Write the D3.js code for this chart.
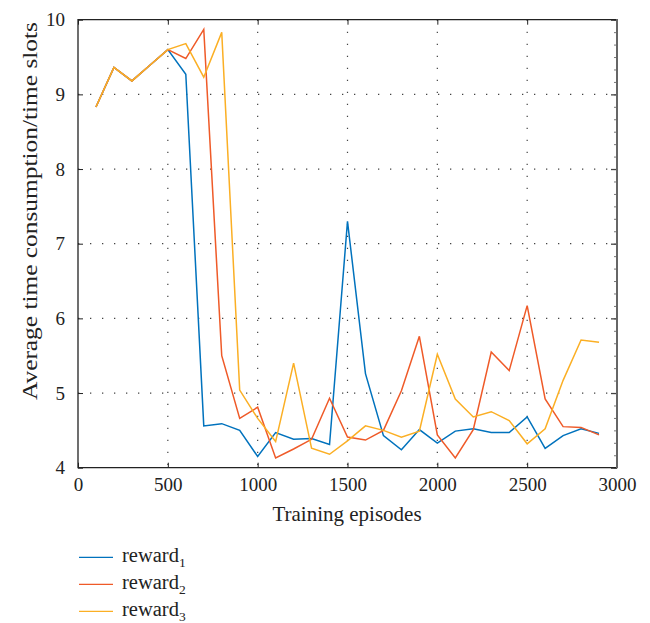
<!DOCTYPE html>
<html>
<head>
<meta charset="utf-8">
<script src="https://cdn.jsdelivr.net/npm/d3@7"></script>
<style>
  body { margin: 0; background: #fff; }
  text { font-family: "Liberation Serif", "DejaVu Serif", serif; fill: #222; }
</style>
</head>
<body>
<svg id="chart" width="650" height="623"></svg>
<script>
// training episodes (x)
var episodes = [100, 200, 300, 400, 500, 600, 700, 800, 900, 1000,
                1100, 1200, 1300, 1400, 1500, 1600, 1700, 1800, 1900, 2000,
                2100, 2200, 2300, 2400, 2500, 2600, 2700, 2800, 2900]

var reward1 = [8.83, 9.36, 9.18, 9.39, 9.60, 9.27, 4.56, 4.59, 4.50, 4.15,
               4.47, 4.38, 4.39, 4.31, 7.30, 5.26, 4.43, 4.24, 4.51, 4.33,
               4.49, 4.52, 4.47, 4.47, 4.68, 4.26, 4.43, 4.52, 4.46]

var reward2 = [8.83, 9.36, 9.18, 9.39, 9.60, 9.48, 9.87, 5.50, 4.66, 4.81,
               4.13, 4.25, 4.38, 4.93, 4.41, 4.37, 4.50, 5.03, 5.76, 4.44,
               4.13, 4.51, 5.55, 5.30, 6.17, 4.92, 4.55, 4.54, 4.44]

var reward3 = [8.83, 9.36, 9.18, 9.39, 9.60, 9.68, 9.23, 9.83, 5.04, 4.66,
               4.35, 5.40, 4.26, 4.18, 4.36, 4.56, 4.50, 4.41, 4.49, 5.52,
               4.92, 4.68, 4.75, 4.63, 4.32, 4.52, 5.17, 5.71, 5.68]

var seriesNames = ["1", "2", "3"]
var xTicks = [0, 500, 1000, 1500, 2000, 2500, 3000]
var yTicks = [4, 5, 6, 7, 8, 9, 10]

var colors = ["#0072BD", "#EF5A28", "#FBAF24"]

function draw() {
    var svg = d3.select("#chart")
    var x0 = 78, x1 = 617, y0 = 19.7, y1 = 467.7

    var x = d3.scaleLinear().domain([0, 3000]).range([x0, x1])
    var y = d3.scaleLinear().domain([4, 10]).range([y1, y0])

    // dotted grid
    var grid = svg.append("g")
    grid.selectAll(".gx")
        .data(xTicks.slice(1, -1))
        .enter().append("line")
        .attr("x1", function(d) { return x(d) })
        .attr("x2", function(d) { return x(d) })
        .attr("y1", y0).attr("y2", y1)
        .attr("stroke", "#444")
        .attr("stroke-width", 1.2)
        .attr("stroke-dasharray", "1.3,10.7")
    grid.selectAll(".gy")
        .data(yTicks.slice(1, -1))
        .enter().append("line")
        .attr("x1", x0).attr("x2", x1)
        .attr("y1", function(d) { return y(d) })
        .attr("y2", function(d) { return y(d) })
        .attr("stroke", "#444")
        .attr("stroke-width", 1.2)
        .attr("stroke-dasharray", "1.3,10.7")

    // lines
    var line = d3.line()
        .x(function(d, i) { return x(episodes[i]) })
        .y(function(d) { return y(d) })

    var allSeries = [reward1, reward2, reward3]
    svg.append("g").selectAll("path")
        .data(allSeries)
        .enter().append("path")
        .attr("d", line)
        .attr("fill", "none")
        .attr("stroke", function(d, i) { return colors[i] })
        .attr("stroke-width", 1.5)

    // axes (ticks inward)
    svg.append("g")
        .attr("transform", "translate(0," + y1 + ")")
        .call(d3.axisBottom(x).tickValues(xTicks).tickFormat(d3.format("d"))
              .tickSizeInner(-5).tickSizeOuter(0).tickPadding(10))
        .call(function(g) {
            g.select(".domain").remove()
            g.selectAll("line").attr("stroke", "#222")
            g.selectAll("text").attr("font-size", 19).attr("fill", "#222")
                .attr("font-family", "Liberation Serif, serif")
        })

    svg.append("g")
        .attr("transform", "translate(0," + y0 + ")")
        .call(d3.axisTop(x).tickValues(xTicks).tickSizeInner(-5).tickSizeOuter(0).tickFormat(""))
        .call(function(g) {
            g.select(".domain").remove()
            g.selectAll("line").attr("stroke", "#222")
        })

    svg.append("g")
        .attr("transform", "translate(" + x0 + ",0)")
        .call(d3.axisLeft(y).tickValues(yTicks).tickFormat(d3.format("d"))
              .tickSizeInner(-5).tickSizeOuter(0).tickPadding(13))
        .call(function(g) {
            g.select(".domain").remove()
            g.selectAll("line").attr("stroke", "#222")
            g.selectAll("text").attr("font-size", 19).attr("fill", "#222")
                .attr("font-family", "Liberation Serif, serif")
        })

    // right axis with minor ticks
    var minor = d3.range(4, 10.001, 1 / 6)
    svg.append("g")
        .attr("transform", "translate(" + x1 + ",0)")
        .call(d3.axisRight(y).tickValues(minor).tickSizeInner(-3).tickSizeOuter(0).tickFormat(""))
        .call(function(g) {
            g.select(".domain").remove()
            g.selectAll("line").attr("stroke", "#777")
        })
    svg.append("g")
        .attr("transform", "translate(" + x1 + ",0)")
        .call(d3.axisRight(y).tickValues(yTicks).tickSizeInner(-6).tickSizeOuter(0).tickFormat(""))
        .call(function(g) {
            g.select(".domain").remove()
            g.selectAll("line").attr("stroke", "#444").attr("stroke-width", 1.3)
        })

    // frame
    svg.append("path")
        .attr("d", "M" + x1 + "," + y0 + "H" + x0 + "V" + y1 + "H" + x1)
        .attr("fill", "none")
        .attr("stroke", "#222")
        .attr("stroke-width", 1.3)
    svg.append("line")
        .attr("x1", x1).attr("x2", x1)
        .attr("y1", y0 - 0.6).attr("y2", y1 + 0.6)
        .attr("stroke", "#666")
        .attr("stroke-width", 2)

    // axis titles
    svg.append("text")
        .attr("x", 347)
        .attr("y", 521)
        .attr("text-anchor", "middle")
        .attr("font-size", 21)
        .text("Training episodes")

    svg.append("text")
        .attr("transform", "translate(37,211) rotate(-90)")
        .attr("text-anchor", "middle")
        .attr("font-size", 21.5)
        .attr("textLength", 378)
        .attr("lengthAdjust", "spacingAndGlyphs")
        .text("Average time consumption/time slots")

    // legend
    var legend = svg.append("g").selectAll("g")
        .data(seriesNames)
        .enter().append("g")
        .attr("transform", function(d, i) { return "translate(0," + (557.3 + i * 27) + ")" })
    legend.append("line")
        .attr("x1", 79).attr("x2", 113)
        .attr("stroke", function(d, i) { return colors[i] })
        .attr("stroke-width", 1.3)
    var lt = legend.append("text")
        .attr("x", 122)
        .attr("y", 4.5)
        .attr("font-size", 20.5)
    lt.append("tspan").text("reward")
    lt.append("tspan")
        .attr("font-size", 13.5)
        .attr("dy", 5)
        .text(function(d) { return d })
}

draw()
</script>
</body>
</html>
